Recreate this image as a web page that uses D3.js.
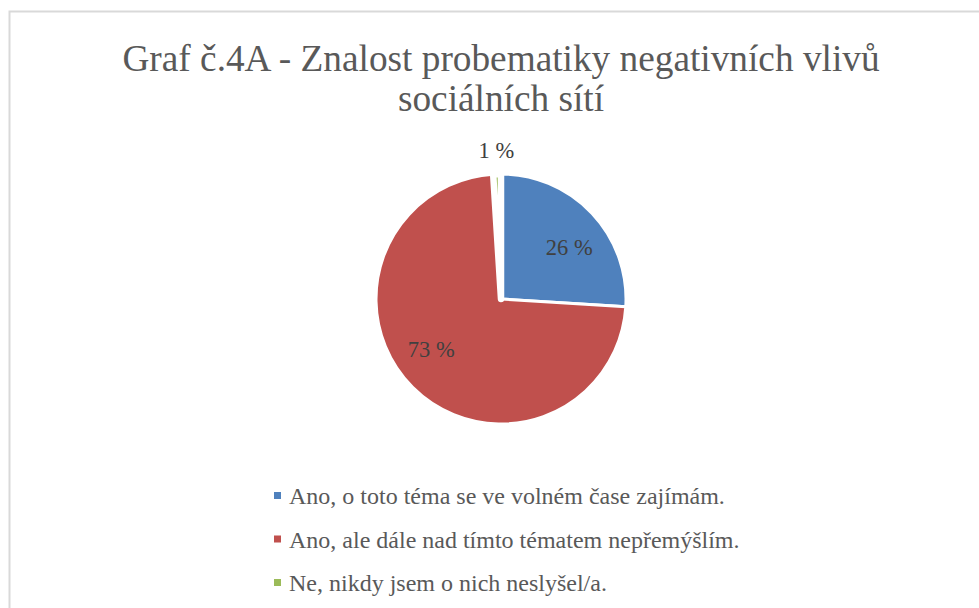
<!DOCTYPE html>
<meta charset="utf-8">
<style>
body { margin: 0; background: #fff; }
</style>
<script src="https://d3js.org/d3.v7.min.js"></script>
<body>
<script>
var titleLines = ["Graf č.4A - Znalost probematiky negativních vlivů", "sociálních sítí"];
var categories = ["Ano, o toto téma se ve volném čase zajímám.",
                  "Ano, ale dále nad tímto tématem nepřemýšlím.",
                  "Ne, nikdy jsem o nich neslyšel/a."];
var values = [26, 73, 1];
var labels = ["26 %", "73 %", "1 %"];
var colors = ["#4f81bd", "#c0504d", "#9bbb59"];

var font = "'Liberation Serif', 'DejaVu Serif', 'Times New Roman', serif";
var width = 979, height = 608;
var svg = d3.select("body").append("svg")
    .attr("width", width)
    .attr("height", height)
    .style("font-family", font);

// chart border
svg.append("rect")
    .attr("x", 9.5).attr("y", 11.5)
    .attr("width", width).attr("height", height)
    .attr("fill", "none")
    .attr("stroke", "#d9d9d9")
    .attr("stroke-width", 2);

svg.selectAll(".title")
    .data(titleLines)
  .enter().append("text")
    .attr("class", "title")
    .attr("x", 501)
    .attr("y", function(d, i) { return 71 + i * 40; })
    .attr("text-anchor", "middle")
    .attr("font-family", font)
    .attr("font-size", 37.3)
    .attr("fill", "#595959")
    .text(function(d) { return d; });

var cx = 501, cy = 299, r = 125;
var pie = d3.pie().sort(null)(values);
var arc = d3.arc().innerRadius(0).outerRadius(r);

var g = svg.append("g").attr("transform", "translate(" + cx + "," + cy + ")");

g.selectAll("path")
    .data(pie)
  .enter().append("path")
    .attr("d", arc)
    .attr("fill", function(d, i) { return colors[i]; })
    .attr("stroke", "#fff")
    .attr("stroke-width", function(d, i) { return i === 2 ? 6.5 : 3; })
    .attr("stroke-linejoin", "round");

// label radius and small angle nudge (radians) per slice
var labelRadius = [86, 86, r + 24];
var labelNudge = [0.1, 0.16, 0];

g.selectAll(".lbl")
    .data(pie)
  .enter().append("text")
    .attr("class", "lbl")
    .attr("x", function(d, i) { return Math.sin((d.startAngle + d.endAngle) / 2 + labelNudge[i]) * labelRadius[i]; })
    .attr("y", function(d, i) { return -Math.cos((d.startAngle + d.endAngle) / 2 + labelNudge[i]) * labelRadius[i]; })
    .attr("dy", "0.35em")
    .attr("text-anchor", "middle")
    .attr("font-family", font)
    .attr("font-size", 22.5)
    .attr("fill", "#404040")
    .text(function(d, i) { return labels[i]; });

var legend = svg.selectAll(".leg")
    .data(categories)
  .enter().append("g")
    .attr("class", "leg")
    .attr("transform", function(d, i) { return "translate(274," + (504 + i * 43.5) + ")"; });

legend.append("rect")
    .attr("x", 0).attr("y", -12)
    .attr("width", 7).attr("height", 7)
    .attr("fill", function(d, i) { return colors[i]; });

legend.append("text")
    .attr("x", 15)
    .attr("y", 0)
    .attr("font-family", font)
    .attr("font-size", 24)
    .attr("fill", "#595959")
    .text(function(d) { return d; });
</script>
</body>
